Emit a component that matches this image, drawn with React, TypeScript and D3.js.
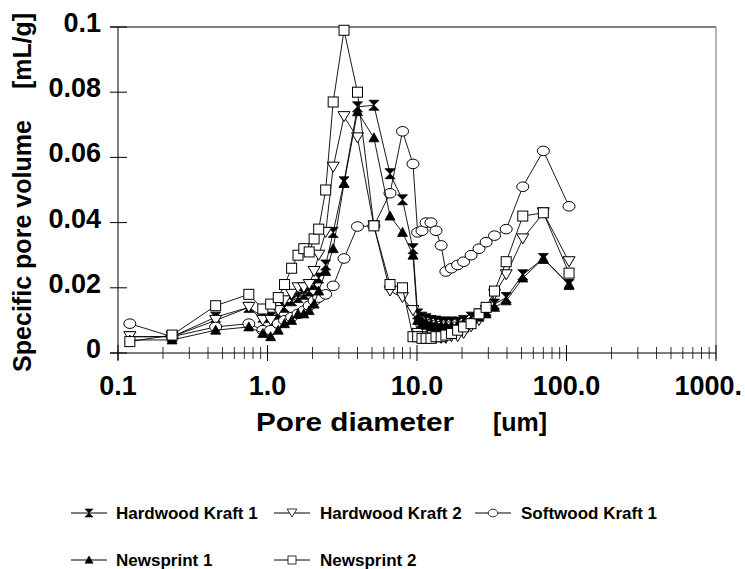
import React from "react"
import * as d3 from "d3"

// pore diameters shared by every series (um)
const diameters = [
  0.12, 0.23, 0.45, 0.75, 0.93, 1.05, 1.18, 1.3, 1.45, 1.6, 1.75, 1.9, 2.05, 2.2,
  2.45, 2.75, 3.25, 4.0, 5.15, 6.6, 8.0, 9.4, 10.1, 10.8, 11.5, 12.4, 13.4, 14.5,
  15.6, 17, 18.7, 20.5, 23, 26, 29, 33, 39.5, 51, 70, 104,
]

const hardwood1 = [
  0.005, 0.005, 0.011, 0.014, 0.011, 0.011, 0.012, 0.014, 0.016, 0.017, 0.018, 0.019, 0.021, 0.023,
  0.027, 0.037, 0.0525, 0.0755, 0.076, 0.055, 0.047, 0.032, 0.012, 0.011, 0.0105, 0.01, 0.0098, 0.0095,
  0.0095, 0.0095, 0.0095, 0.01, 0.011, 0.012, 0.013, 0.015, 0.017, 0.024, 0.029, 0.021,
]
const hardwood2 = [
  0.005, 0.005, 0.01, 0.014, 0.01, 0.01, 0.013, 0.016, 0.018, 0.02, 0.02, 0.021, 0.025, 0.03,
  0.037, 0.057, 0.0725, 0.066, 0.039, 0.019, 0.017, 0.013, 0.006, 0.005, 0.0045, 0.0045, 0.0045, 0.0045,
  0.0045, 0.005, 0.005, 0.006, 0.008, 0.01, 0.013, 0.018, 0.024, 0.035, 0.043, 0.028,
]
const softwood1 = [
  0.009, 0.005, 0.008, 0.009, 0.007, 0.007, 0.009, 0.01, 0.011, 0.012, 0.013, 0.0145, 0.016, 0.017,
  0.018, 0.0206, 0.029, 0.0388, 0.039, 0.049, 0.068, 0.058, 0.037, 0.0375, 0.04, 0.04, 0.0375, 0.033,
  0.025, 0.026, 0.027, 0.028, 0.03, 0.032, 0.034, 0.036, 0.038, 0.051, 0.062, 0.045,
]
const newsprint1 = [
  0.004, 0.004, 0.007, 0.008, 0.006, 0.005, 0.007, 0.009, 0.01, 0.012, 0.012, 0.013, 0.015, 0.019,
  0.025, 0.032, 0.052, 0.074, 0.066, 0.042, 0.037, 0.03, 0.01, 0.009, 0.0085, 0.008, 0.008, 0.008,
  0.008, 0.008, 0.0085, 0.009, 0.01, 0.011, 0.012, 0.014, 0.016, 0.023, 0.029, 0.021,
]
const newsprint2 = [
  0.0035, 0.0055, 0.0145, 0.018, 0.0135, 0.015, 0.017, 0.021, 0.026, 0.03, 0.032, 0.031, 0.035, 0.038,
  0.05, 0.077, 0.099, 0.08, 0.039, 0.021, 0.02, 0.005, 0.005, 0.0045, 0.0045, 0.0045, 0.005, 0.005,
  0.0055, 0.006, 0.007, 0.008, 0.009, 0.012, 0.014, 0.019, 0.028, 0.042, 0.043, 0.0245,
]

const seriesNames = ["Hardwood Kraft 1", "Hardwood Kraft 2", "Softwood Kraft 1", "Newsprint 1", "Newsprint 2"]
const seriesValues = [hardwood1, hardwood2, softwood1, newsprint1, newsprint2]
const markerKinds = ["bowtie", "triDown", "circle", "triUp", "square"]

const yTicks = [0, 0.02, 0.04, 0.06, 0.08, 0.1]
const yTickLabels = ["0", "0.02", "0.04", "0.06", "0.08", "0.1"]
const xTicks = [0.1, 1, 10, 100, 1000]
const xTickLabels = ["0.1", "1.0", "10.0", "100.0", "1000."]

const font = "'Liberation Sans', Arial, sans-serif"

function Marker({ kind, x, y }: { kind: string; x: number; y: number }) {
  if (kind === "bowtie")
    return <path d={`M${x - 5},${y - 5}H${x + 5}L${x},${y}L${x + 5},${y + 5}H${x - 5}L${x},${y}Z`} fill="#000" stroke="#000" strokeWidth={0.8} />
  if (kind === "triDown")
    return <path d={`M${x - 6},${y - 5}H${x + 6}L${x},${y + 5}Z`} fill="#fff" stroke="#000" strokeWidth={1} />
  if (kind === "triUp")
    return <path d={`M${x - 5},${y + 4}H${x + 5}L${x},${y - 5}Z`} fill="#000" stroke="#000" strokeWidth={0.8} />
  if (kind === "circle")
    return <ellipse cx={x} cy={y} rx={6} ry={4.8} fill="#fff" stroke="#000" strokeWidth={1} />
  return <rect x={x - 5} y={y - 5} width={10} height={10} fill="#fff" stroke="#000" strokeWidth={1} />
}

export default function App() {
  const x = d3.scaleLog().domain([0.1, 1000]).range([118, 716])
  const y = d3.scaleLinear().domain([0, 0.1]).range([353, 27])
  const line = d3.line<number>().x((_, i) => x(diameters[i])).y((v) => y(v))

  const minorX: number[] = []
  for (let dec = 0.1; dec < 1000; dec *= 10) for (let k = 2; k <= 9; k++) minorX.push(dec * k)

  const legendPos = [
    { lx: 89, ly: 513, tx: 116 },
    { lx: 292, ly: 513, tx: 320 },
    { lx: 493, ly: 513, tx: 521 },
    { lx: 89, ly: 560, tx: 116 },
    { lx: 292, ly: 560, tx: 320 },
  ]

  return (
    <svg width={745} height={569} style={{ position: "absolute", left: 0, top: 0, background: "#fff" }} fontFamily={font}>
      {/* frame */}
      <line x1={110} x2={716} y1={27} y2={27} stroke="#000" strokeWidth={1.2} />
      <line x1={716} x2={716} y1={27} y2={359} stroke="#888" strokeWidth={1.2} />
      <line x1={118} x2={118} y1={27} y2={360} stroke="#000" strokeWidth={1} />
      <line x1={110} x2={716} y1={353} y2={353} stroke="#000" strokeWidth={1} />

      {yTicks.map((t, i) => (
        <g key={"y" + i}>
          <line x1={110} x2={127} y1={y(t)} y2={y(t)} stroke="#000" />
          <text x={101} y={y(t) + 5} textAnchor="end" fontSize={27} fontWeight="bold">{yTickLabels[i]}</text>
        </g>
      ))}
      {minorX.map((t, i) => (
        <line key={"mx" + i} x1={x(t)} x2={x(t)} y1={347} y2={359} stroke="#000" strokeWidth={0.8} />
      ))}
      {xTicks.map((t, i) => (
        <g key={"x" + i}>
          <line x1={x(t)} x2={x(t)} y1={345} y2={361} stroke="#000" />
          <text
            x={i === xTicks.length - 1 ? 742 : x(t)}
            y={395}
            textAnchor={i === xTicks.length - 1 ? "end" : "middle"}
            fontSize={27}
            fontWeight="bold"
          >
            {xTickLabels[i]}
          </text>
        </g>
      ))}

      <text x={256} y={431} fontSize={26} fontWeight="bold" textLength={198} lengthAdjust="spacingAndGlyphs">Pore diameter</text>
      <text x={493} y={431} fontSize={26} fontWeight="bold" textLength={54} lengthAdjust="spacingAndGlyphs">[um]</text>
      <text transform="translate(31,372) rotate(-90)" fontSize={25} fontWeight="bold" textLength={252} lengthAdjust="spacingAndGlyphs">Specific pore volume</text>
      <text transform="translate(31,89) rotate(-90)" fontSize={25} fontWeight="bold" textLength={76} lengthAdjust="spacingAndGlyphs">[mL/g]</text>

      {seriesValues.map((vals, s) => (
        <g key={"s" + s}>
          <path d={line(vals) || ""} fill="none" stroke="#000" strokeWidth={0.9} />
          {vals.map((v, i) => (
            <Marker key={i} kind={markerKinds[s]} x={x(diameters[i])} y={y(v)} />
          ))}
        </g>
      ))}

      {seriesNames.map((name, s) => {
        const p = legendPos[s]
        return (
          <g key={"l" + s}>
            <line x1={p.lx - 18} x2={p.lx + 18} y1={p.ly} y2={p.ly} stroke="#000" />
            <g transform={`translate(${p.lx},${p.ly}) scale(0.8) translate(${-p.lx},${-p.ly})`}>
              <Marker kind={markerKinds[s]} x={p.lx} y={p.ly} />
            </g>
            <text x={p.tx} y={p.ly + 6} fontSize={17} fontWeight="bold">{name}</text>
          </g>
        )
      })}
    </svg>
  )
}
